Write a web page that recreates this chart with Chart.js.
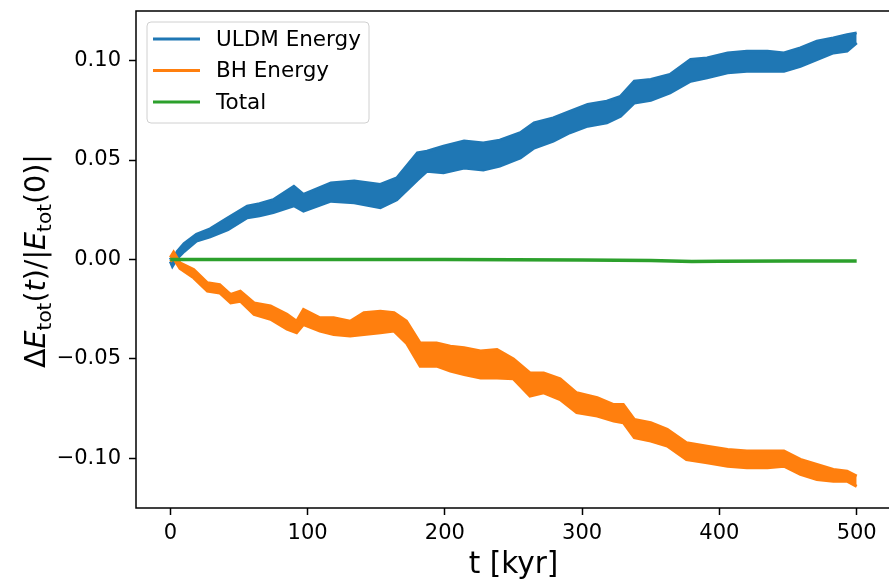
<!DOCTYPE html>
<html>
<head>
<meta charset="utf-8">
<script src="https://cdn.jsdelivr.net/npm/chart.js@4.4.0/dist/chart.umd.min.js"></script>
<style>
	html, body { margin: 0; padding: 0; background: #fff; overflow: hidden; }
	#energy_chart { display: block; }
</style>
</head>
<body>
<canvas id="energy_chart" width="900" height="588"></canvas>
<script>
// values (t in kyr, bands = upper/lower edge of the noisy curve)
var tUldm = [0, 1.5, 5, 10, 19, 29, 42, 56, 65, 75, 90, 97, 117, 134, 153, 165, 180, 187, 199, 214, 228, 240, 255, 265, 279, 291, 304, 318, 328, 338, 350, 364, 379, 391, 406, 420, 435, 447, 459, 471, 483, 493, 500];
var uldmHi = [0.001, -0.001, 0.004, 0.008, 0.0126, 0.0154, 0.021, 0.0268, 0.028, 0.030, 0.0368, 0.0327, 0.0385, 0.0394, 0.0377, 0.041, 0.0536, 0.0544, 0.057, 0.0595, 0.0586, 0.060, 0.0637, 0.0687, 0.0712, 0.0745, 0.0779, 0.0796, 0.082, 0.0896, 0.0905, 0.093, 0.1005, 0.1013, 0.1038, 0.1047, 0.1047, 0.1038, 0.1064, 0.1097, 0.1114, 0.113, 0.1139];
var uldmLo = [-0.001, -0.0034, 0.0005, 0.004, 0.0092, 0.0114, 0.015, 0.021, 0.022, 0.0236, 0.027, 0.0243, 0.0293, 0.0285, 0.026, 0.030, 0.040, 0.0444, 0.0436, 0.046, 0.045, 0.0469, 0.051, 0.056, 0.0595, 0.0637, 0.067, 0.0687, 0.072, 0.0787, 0.080, 0.0838, 0.0896, 0.0913, 0.0938, 0.0946, 0.0946, 0.0946, 0.0971, 0.1005, 0.1038, 0.1047, 0.1089];

var tBh = [0, 2.4, 7, 17, 27, 36, 44, 51, 61, 73, 85, 92, 97, 109, 119, 131, 141, 153, 163, 172, 182, 194, 204, 214, 226, 238, 250, 262, 272, 284, 296, 311, 323, 330, 338, 350, 362, 376, 391, 406, 420, 435, 447, 459, 471, 483, 493, 500];
var bhHi = [0.001, 0.0037, -0.0017, -0.005, -0.0117, -0.0126, -0.0176, -0.0159, -0.0218, -0.0234, -0.0276, -0.031, -0.0251, -0.0293, -0.0293, -0.031, -0.0268, -0.026, -0.0268, -0.031, -0.042, -0.042, -0.0436, -0.0444, -0.046, -0.0452, -0.050, -0.057, -0.057, -0.060, -0.067, -0.0695, -0.0729, -0.0729, -0.0804, -0.082, -0.0854, -0.0921, -0.0938, -0.0955, -0.0963, -0.0963, -0.0963, -0.1005, -0.103, -0.1055, -0.1064, -0.1089];
var bhLo = [-0.001, 0.0005, -0.0045, -0.0092, -0.0159, -0.0168, -0.0218, -0.021, -0.0276, -0.030, -0.035, -0.0368, -0.0327, -0.036, -0.0377, -0.0385, -0.0377, -0.0368, -0.036, -0.042, -0.0536, -0.0536, -0.0561, -0.0578, -0.0595, -0.0595, -0.060, -0.0687, -0.067, -0.0704, -0.077, -0.0787, -0.0812, -0.082, -0.0896, -0.0913, -0.0938, -0.1005, -0.1022, -0.1039, -0.1047, -0.1047, -0.1039, -0.108, -0.1106, -0.1114, -0.1114, -0.114];

var tTotal = [0, 100, 200, 300, 350, 380, 400, 450, 500];
var total = [0, 0, 0, -0.0002, -0.0005, -0.001, -0.0009, -0.0007, -0.0007];

var xTicks = [0, 100, 200, 300, 400, 500];
var yTicks = [-0.10, -0.05, 0.00, 0.05, 0.10];

var legendNames = ['ULDM Energy', 'BH Energy', 'Total'];
var legendColors = ['#1f77b4', '#ff7f0e', '#2ca02c'];

var FONT = "'DejaVu Sans', sans-serif";

function toPoints(t, v) {
	var pts = [];
	for(var i = 0; i < t.length; i++) {
		pts.push({x: t[i], y: v[i]});
	}
	return pts;
}

function fmtTick(v) {
	if(Math.abs(v) < 1e-9) v = 0;
	return v.toFixed(2).replace('-', '\u2212');
}

// frame, legend box and the y label with subscripts
var decorPlugin = {
	id: 'decor',
	afterDraw: function(chart) {
		var c = chart.ctx;
		var a = chart.chartArea;
		c.save();

		//spines
		c.strokeStyle = '#000';
		c.lineWidth = 1.5;
		c.strokeRect(a.left, a.top, a.right - a.left, a.bottom - a.top);

		//legend
		var lx = 147, ly = 22, lw = 222, lh = 101, r = 4;
		c.beginPath();
		c.moveTo(lx + r, ly);
		c.arcTo(lx + lw, ly, lx + lw, ly + lh, r);
		c.arcTo(lx + lw, ly + lh, lx, ly + lh, r);
		c.arcTo(lx, ly + lh, lx, ly, r);
		c.arcTo(lx, ly, lx + lw, ly, r);
		c.closePath();
		c.fillStyle = 'rgba(255,255,255,0.8)';
		c.fill();
		c.strokeStyle = '#d0d0d0';
		c.lineWidth = 1;
		c.stroke();

		var rows = [39, 70.5, 102];
		c.font = '21.5px ' + FONT;
		c.textBaseline = 'middle';
		c.textAlign = 'left';
		for(var i = 0; i < legendNames.length; i++) {
			c.strokeStyle = legendColors[i];
			c.lineWidth = 3;
			c.beginPath();
			c.moveTo(153, rows[i]);
			c.lineTo(200, rows[i]);
			c.stroke();
			c.fillStyle = '#000';
			c.fillText(legendNames[i], 216, rows[i] + 1);
		}

		//y label: ΔE_tot(t)/|E_tot(0)|
		var big = 28.5, small = 20;
		var parts = [
			{s: '\u0394', f: big + 'px ' + FONT, dy: 0},
			{s: 'E', f: 'italic ' + big + 'px ' + FONT, dy: 0},
			{s: 'tot', f: small + 'px ' + FONT, dy: 6},
			{s: '(', f: big + 'px ' + FONT, dy: 0},
			{s: 't', f: 'italic ' + big + 'px ' + FONT, dy: 0},
			{s: ')/|', f: big + 'px ' + FONT, dy: 0},
			{s: 'E', f: 'italic ' + big + 'px ' + FONT, dy: 0},
			{s: 'tot', f: small + 'px ' + FONT, dy: 6},
			{s: '(0)|', f: big + 'px ' + FONT, dy: 0}
		];
		var w = 0;
		for(var j = 0; j < parts.length; j++) {
			c.font = parts[j].f;
			parts[j].w = c.measureText(parts[j].s).width;
			w += parts[j].w;
		}
		c.translate(45, 261);
		c.rotate(-Math.PI / 2);
		c.textBaseline = 'alphabetic';
		c.fillStyle = '#000';
		var x = -w / 2;
		for(var k = 0; k < parts.length; k++) {
			c.font = parts[k].f;
			c.fillText(parts[k].s, x, parts[k].dy);
			x += parts[k].w;
		}
		c.restore();
	}
};

function bandSet(pts, color, fill) {
	return {
		data: pts,
		borderColor: color,
		backgroundColor: color,
		borderWidth: 3,
		pointRadius: 0,
		tension: 0,
		fill: fill
	};
}

window.onload = function() {
	var ctx = document.getElementById('energy_chart').getContext('2d');

	var green = {
		label: 'Total',
		data: toPoints(tTotal, total),
		borderColor: legendColors[2],
		borderWidth: 3.5,
		pointRadius: 0,
		fill: false
	};

	new Chart(ctx, {
		type: 'line',
		data: {
			datasets: [
				green,
				bandSet(toPoints(tBh, bhHi), legendColors[1], '+1'),
				bandSet(toPoints(tBh, bhLo), legendColors[1], false),
				bandSet(toPoints(tUldm, uldmHi), legendColors[0], '+1'),
				bandSet(toPoints(tUldm, uldmLo), legendColors[0], false)
			]
		},
		options: {
			responsive: false,
			animation: false,
			devicePixelRatio: 1,
			layout: { padding: { left: 0, top: 11, right: 9, bottom: 0 } },
			plugins: {
				legend: { display: false },
				tooltip: { enabled: false },
				filler: { propagate: false }
			},
			scales: {
				x: {
					type: 'linear',
					min: -25,
					max: 525,
					afterFit: function(s) {
						s.height = 80;
						s.paddingLeft = 0;
						s.paddingRight = 0;
					},
					afterBuildTicks: function(s) {
						s.ticks = xTicks.map(function(v) { return {value: v}; });
					},
					border: { display: false },
					grid: { drawOnChartArea: false, drawTicks: true, tickLength: 7, tickColor: '#000', tickWidth: 1.5 },
					ticks: {
						color: '#000',
						padding: 6,
						maxRotation: 0,
						font: { family: FONT, size: 21 },
						callback: function(v) { return String(v); }
					},
					title: {
						display: true,
						text: 't [kyr]',
						color: '#000',
						font: { family: FONT, size: 29.5 },
						padding: { top: 0, bottom: 5 }
					}
				},
				y: {
					min: -0.1249,
					max: 0.1249,
					afterFit: function(s) {
						s.width = 136;
						s.paddingTop = 0;
						s.paddingBottom = 0;
					},
					afterBuildTicks: function(s) {
						s.ticks = yTicks.map(function(v) { return {value: v}; });
					},
					border: { display: false },
					grid: { drawOnChartArea: false, drawTicks: true, tickLength: 7, tickColor: '#000', tickWidth: 1.5 },
					ticks: {
						color: '#000',
						padding: 8,
						font: { family: FONT, size: 21 },
						callback: function(v) { return fmtTick(v); }
					}
				}
			}
		},
		plugins: [decorPlugin]
	});
};
</script>
</body>
</html>
